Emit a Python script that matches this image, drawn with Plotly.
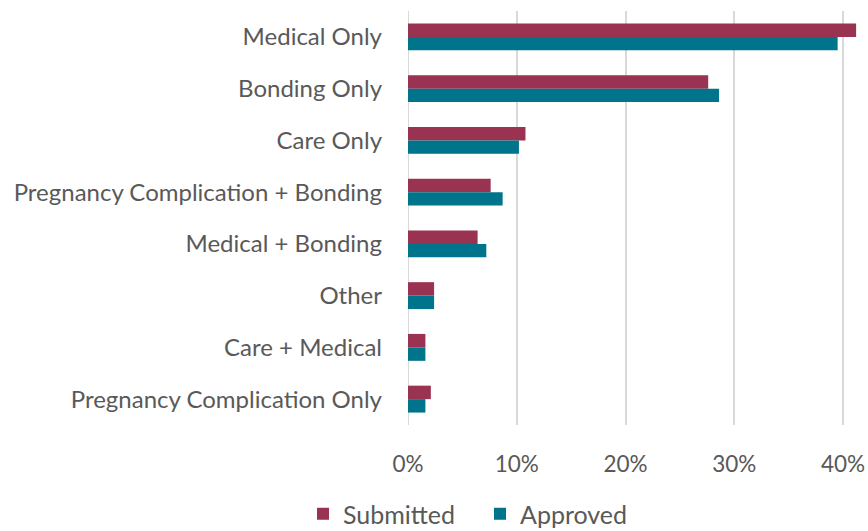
import plotly.graph_objects as go

categories = ["Medical Only", "Bonding Only", "Care Only", "Pregnancy Complication + Bonding",
              "Medical + Bonding", "Other", "Care + Medical", "Pregnancy Complication Only"]
submitted = [0.412, 0.276, 0.108, 0.076, 0.064, 0.024, 0.016, 0.021]
approved = [0.395, 0.286, 0.102, 0.087, 0.072, 0.024, 0.016, 0.016]
tick_vals = [0, 0.1, 0.2, 0.3, 0.4]
tick_text = ["0%", "10%", "20%", "30%", "40%"]

FONT = "Lato"
GRAY = "#595959"
FS = 24

fig = go.Figure()
fig.add_trace(go.Bar(name="Submitted", y=categories, x=submitted, orientation="h",
                     marker=dict(color="#993351", line=dict(width=0))))
fig.add_trace(go.Bar(name="Approved", y=categories, x=approved, orientation="h",
                     marker=dict(color="#00748B", line=dict(width=0))))

fig.update_layout(
    width=868, height=531,
    margin=dict(l=408, r=1, t=11, b=106, autoexpand=False),
    paper_bgcolor="white", plot_bgcolor="white",
    barmode="group", bargap=0.48, bargroupgap=0,
    font=dict(family=FONT, color=GRAY, size=FS),
    showlegend=True,
    legend=dict(orientation="h", xref="container", yref="container",
                x=0.553, xanchor="center", y=0.032, yanchor="middle",
                entrywidth=132, entrywidthmode="pixels",
                font=dict(size=25, color=GRAY), itemsizing="constant"),
)
fig.update_xaxes(range=[0, 0.422], tickvals=tick_vals, ticktext=tick_text,
                 showgrid=True, gridcolor="#D9D9D9", gridwidth=2,
                 zeroline=False, showline=False, ticks="", ticklabelstandoff=23,
                 ticklabeloverflow="allow", automargin=False,
                 tickfont=dict(size=22.5, color=GRAY))
fig.update_yaxes(autorange="reversed", showgrid=False, showline=False, ticks="",
                 ticklabelstandoff=25, automargin=False, tickfont=dict(size=FS, color=GRAY))
fig.add_shape(type="line", xref="x", yref="paper", x0=0, x1=0, y0=0, y1=1,
              line=dict(color="#D9D9D9", width=2), layer="below")

fig.write_html("out.html", config={"displayModeBar": False},
               post_script="document.body.style.margin='0';document.body.style.overflow='hidden';")
